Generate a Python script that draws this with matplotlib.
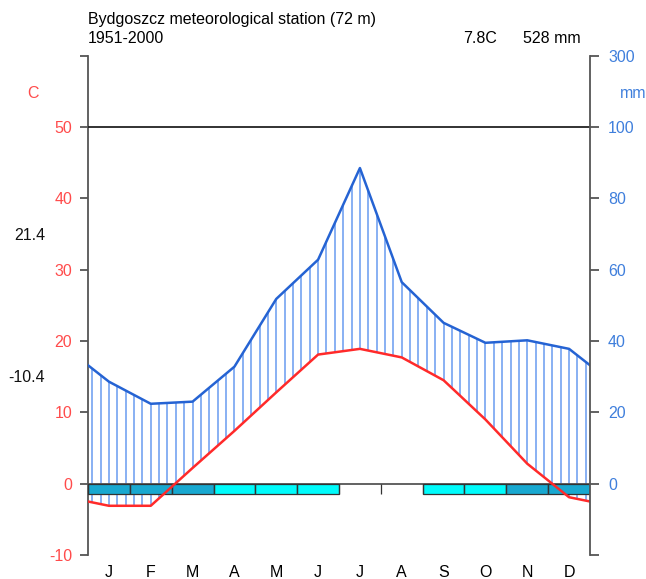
import numpy as np
import matplotlib
matplotlib.use("Agg")
import matplotlib.pyplot as plt
from matplotlib.patches import Rectangle
from matplotlib.transforms import blended_transform_factory

# ---- data -------------------------------------------------------------
station = "Bydgoszcz meteorological station (72 m)"
period = "1951-2000"
mean_temp_label = "7.8C"
total_prec_label = "528 mm"
month_labels = ["J", "F", "M", "A", "M", "J", "J", "A", "S", "O", "N", "D"]
temp = [-3.1, -3.1, 2.2, 7.4, 12.8, 18.1, 18.9, 17.7, 14.5, 9.0, 2.8, -1.9]
prec = [28.6, 22.4, 23.0, 32.8, 51.8, 62.8, 88.5, 56.5, 45.1, 39.5, 40.2, 37.8]
frost = ["sure", "sure", "sure", "prob", "prob", "prob",
         "none", "none", "prob", "prob", "sure", "sure"]
warm_max_label = "21.4"
cold_min_label = "-10.4"
temp_ticks = [-10, 0, 10, 20, 30, 40, 50, 60]
temp_tick_labels = ["-10", "0", "10", "20", "30", "40", "50", ""]
prec_ticks = [0, 20, 40, 60, 80, 100, 300]

# ---- styling ----------------------------------------------------------
FONT = ["Liberation Sans", "DejaVu Sans"]
FS = 11.5
RED = "#ff2a2a"
RED_TXT = "#ff4b4b"
BLUE = "#2563d3"
BLUE_TXT = "#3f7fdc"
HATCH = "#6e9ff0"
AXC = "#555555"
FROST_COL = {"sure": "#18a8d0", "prob": "#00fbfb"}
plt.rcParams["font.family"] = FONT


def prec_to_y(p):
    """Walter-Lieth scale: 2 mm per degree up to 100 mm, 20 mm per degree above."""
    p = np.asarray(p, dtype=float)
    return np.where(p <= 100, p / 2.0, 50 + (p - 100) / 20.0)


W, H = 646, 579
fig = plt.figure(figsize=(W / 100, H / 100), dpi=100)
x0, x1 = 88, 590
y_bot, y_top = 555, 55.7
ax = fig.add_axes([x0 / W, (H - y_bot) / H, (x1 - x0) / W, (y_bot - y_top) / H])
ax.set_xlim(0, 12)
ax.set_ylim(-10, 60)

# curves extended to the plot edges with the Dec/Jan mean
xm = np.arange(12) + 0.5
xe = np.concatenate([[0], xm, [12]])
t_edge = (temp[0] + temp[-1]) / 2
p_edge = (prec[0] + prec[-1]) / 2
te = np.concatenate([[t_edge], temp, [t_edge]])
pe = prec_to_y(np.concatenate([[p_edge], prec, [p_edge]]))

# humid-period hatching
xs = 0.1 + 0.2 * np.arange(60)
ts = np.interp(xs, xe, te)
ps = np.interp(xs, xe, pe)
m = ps > ts
ax.vlines(xs[m], ts[m], ps[m], colors=HATCH, lw=1.15, zorder=2)

# reference lines
ax.axhline(0, color=AXC, lw=1.3, zorder=3)
ax.axhline(50, color="#222222", lw=1.3, zorder=3)

# frost bars
bar_h = 1.45
for i, f in enumerate(frost):
    if f != "none":
        ax.add_patch(Rectangle((i, -bar_h), 1, bar_h, facecolor=FROST_COL[f],
                               edgecolor="#333333", lw=0.9, zorder=4))
ax.vlines(np.arange(13), -bar_h, 0, colors="#333333", lw=0.9, zorder=4)

# temperature and precipitation curves
ax.plot(xe, te, color=RED, lw=1.8, zorder=6, solid_joinstyle="round")
ax.plot(xe, pe, color=BLUE, lw=1.8, zorder=6, solid_joinstyle="round")

# left (temperature) axis
for s in ["top", "bottom", "right"]:
    ax.spines[s].set_visible(False)
ax.spines["left"].set_color(AXC)
ax.spines["left"].set_linewidth(1.3)
ax.set_xticks([])
ax.set_yticks(temp_ticks)
ax.set_yticklabels(temp_tick_labels)
ax.tick_params(axis="y", direction="out", length=6, width=1.3, color=AXC,
               labelcolor=RED_TXT, labelsize=FS, pad=5.5)

# right (precipitation) axis
ax2 = ax.twinx()
ax2.set_ylim(-10, 60)
for s in ["top", "bottom", "left"]:
    ax2.spines[s].set_visible(False)
ax2.spines["right"].set_color(AXC)
ax2.spines["right"].set_linewidth(1.3)
ax2.set_yticks(list(prec_to_y(prec_ticks)) + [-10])
ax2.set_yticklabels([str(v) for v in prec_ticks] + [""])
ax2.tick_params(axis="y", direction="out", length=6.5, width=1.3, color=AXC,
                labelcolor=BLUE_TXT, labelsize=FS, pad=6.5)

# month labels
trans = blended_transform_factory(ax.transData, fig.transFigure)
for i, lab in enumerate(month_labels):
    ax.text(i + 0.5, 1 - 577 / H, lab, transform=trans, ha="center",
            va="baseline", fontsize=FS, color="black")

# unit labels and extremes
fig.text(33 / W, 1 - 93 / H, "C", ha="center", va="center", fontsize=FS, color=RED_TXT)
fig.text(620 / W, 1 - 93 / H, "mm", ha="left", va="center", fontsize=FS, color=BLUE_TXT)
fig.text(45 / W, 1 - 236 / H, warm_max_label, ha="right", va="center", fontsize=FS, color="#111111")
fig.text(45 / W, 1 - 378 / H, cold_min_label, ha="right", va="center", fontsize=FS, color="#111111")

# header
fig.text(88 / W, 1 - 24 / H, station, ha="left", va="baseline", fontsize=FS)
fig.text(88 / W, 1 - 43 / H, period, ha="left", va="baseline", fontsize=FS)
fig.text(497 / W, 1 - 43 / H, mean_temp_label, ha="right", va="baseline", fontsize=FS)
fig.text(581 / W, 1 - 43 / H, total_prec_label, ha="right", va="baseline", fontsize=FS)

fig.savefig("out.png", dpi=100, facecolor="white")
